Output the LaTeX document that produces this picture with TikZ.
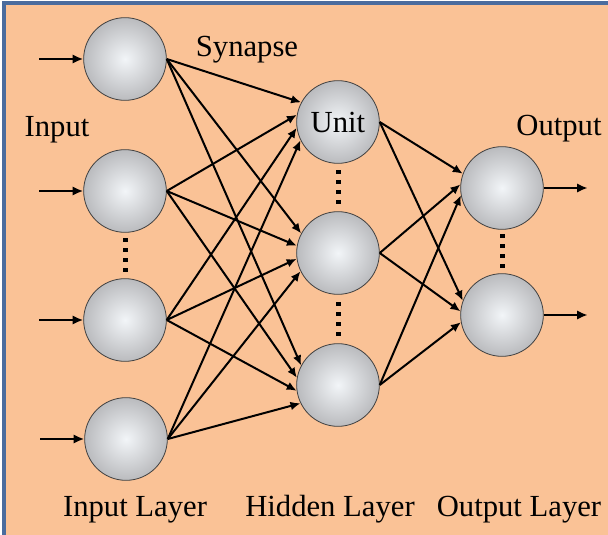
\documentclass[tikz,border=0pt]{standalone}
\usepackage{fontspec}
\setmainfont{Liberation Serif}
\usetikzlibrary{arrows.meta,calc}

\definecolor{peach}{RGB}{250,194,150}
\definecolor{frameblue}{RGB}{74,108,158}
\definecolor{sphcore}{RGB}{242,245,248}
\definecolor{sphmid}{RGB}{186,187,190}
\definecolor{sphrim}{RGB}{128,128,130}
\pgfdeclareradialshading{sphere}{\pgfpoint{0bp}{0bp}}{color(0bp)=(sphcore); color(25bp)=(sphmid); color(50bp)=(sphrim)}

\begin{document}
\begin{tikzpicture}[x=0.75pt, y=-0.75pt,
    neuron/.style={circle, draw=black!75, line width=0.6pt, minimum size=62pt, inner sep=0pt, shading=sphere, font=\fontsize{23}{27}\selectfont},
    lbl/.style={font=\fontsize{23}{27}\selectfont, anchor=base, inner sep=0pt},
    syn/.style={-{Latex[length=7.5pt,width=6.5pt]}, line width=1.5pt},
    io/.style={-{Latex[length=8pt,width=7pt]}, line width=1.6pt},
    dotline/.style={line width=3.75pt, dash pattern=on 3pt off 4.5pt}
  ]
    \useasboundingbox (0,0) rectangle (608,535);
    \fill[peach] (4,3) rectangle (608,535);
    \draw[frameblue, line width=2.5pt] (4,535) -- (4,3) -- (608,3);

    \node[neuron] (in1) at (125,59) {};
    \node[neuron] (in2) at (125,191) {};
    \node[neuron] (in3) at (125,320) {};
    \node[neuron] (in4) at (126,439) {};
    \node[neuron] (hid1) at (338,122) {Unit};
    \node[neuron] (hid2) at (338,253) {};
    \node[neuron] (hid3) at (338,385) {};
    \node[neuron] (out1) at (502,188) {};
    \node[neuron] (out2) at (502,315) {};

    \node[lbl] (synlbl) at (247,57) {Synapse};
    \node[lbl] (inlbl) at (57,137) {Input};
    \node[lbl] (outlbl) at (559,136) {Output};
    \node[lbl] (inlayer) at (135,516) {Input Layer};
    \node[lbl] (hidlayer) at (330,516) {Hidden Layer};
    \node[lbl] (outlayer) at (519,516) {Output Layer};

    % synapses
    \foreach \i [evaluate=\i as \ang using int(134+18*\i)] in {1,...,4}
      \foreach \j in {1,2,3}
        \draw[syn] (in\i.east) -- (hid\j.\ang);
    \foreach \j [evaluate=\j as \ang using int(145+15*\j)] in {1,2,3}
      \foreach \k in {1,2}
        \draw[syn] (hid\j.east) -- (out\k.\ang);

    % inputs and outputs
    \foreach \i in {1,...,4} {
      \coordinate (src\i) at ([xshift=-33pt]in\i.west);
      \draw[io] (src\i) -- (in\i.west);
    }
    \foreach \k in {1,2} {
      \coordinate (dst\k) at ([xshift=33pt]out\k.east);
      \draw[io] (out\k.east) -- (dst\k);
    }

    % dots between neurons
    \foreach \a/\b in {in2/in3, hid1/hid2, hid2/hid3, out1/out2}
      \draw[dotline] ($(\a.south)!0.5!(\b.north)+(0,-17)$) -- ($(\a.south)!0.5!(\b.north)+(0,17)$);
\end{tikzpicture}
\end{document}
